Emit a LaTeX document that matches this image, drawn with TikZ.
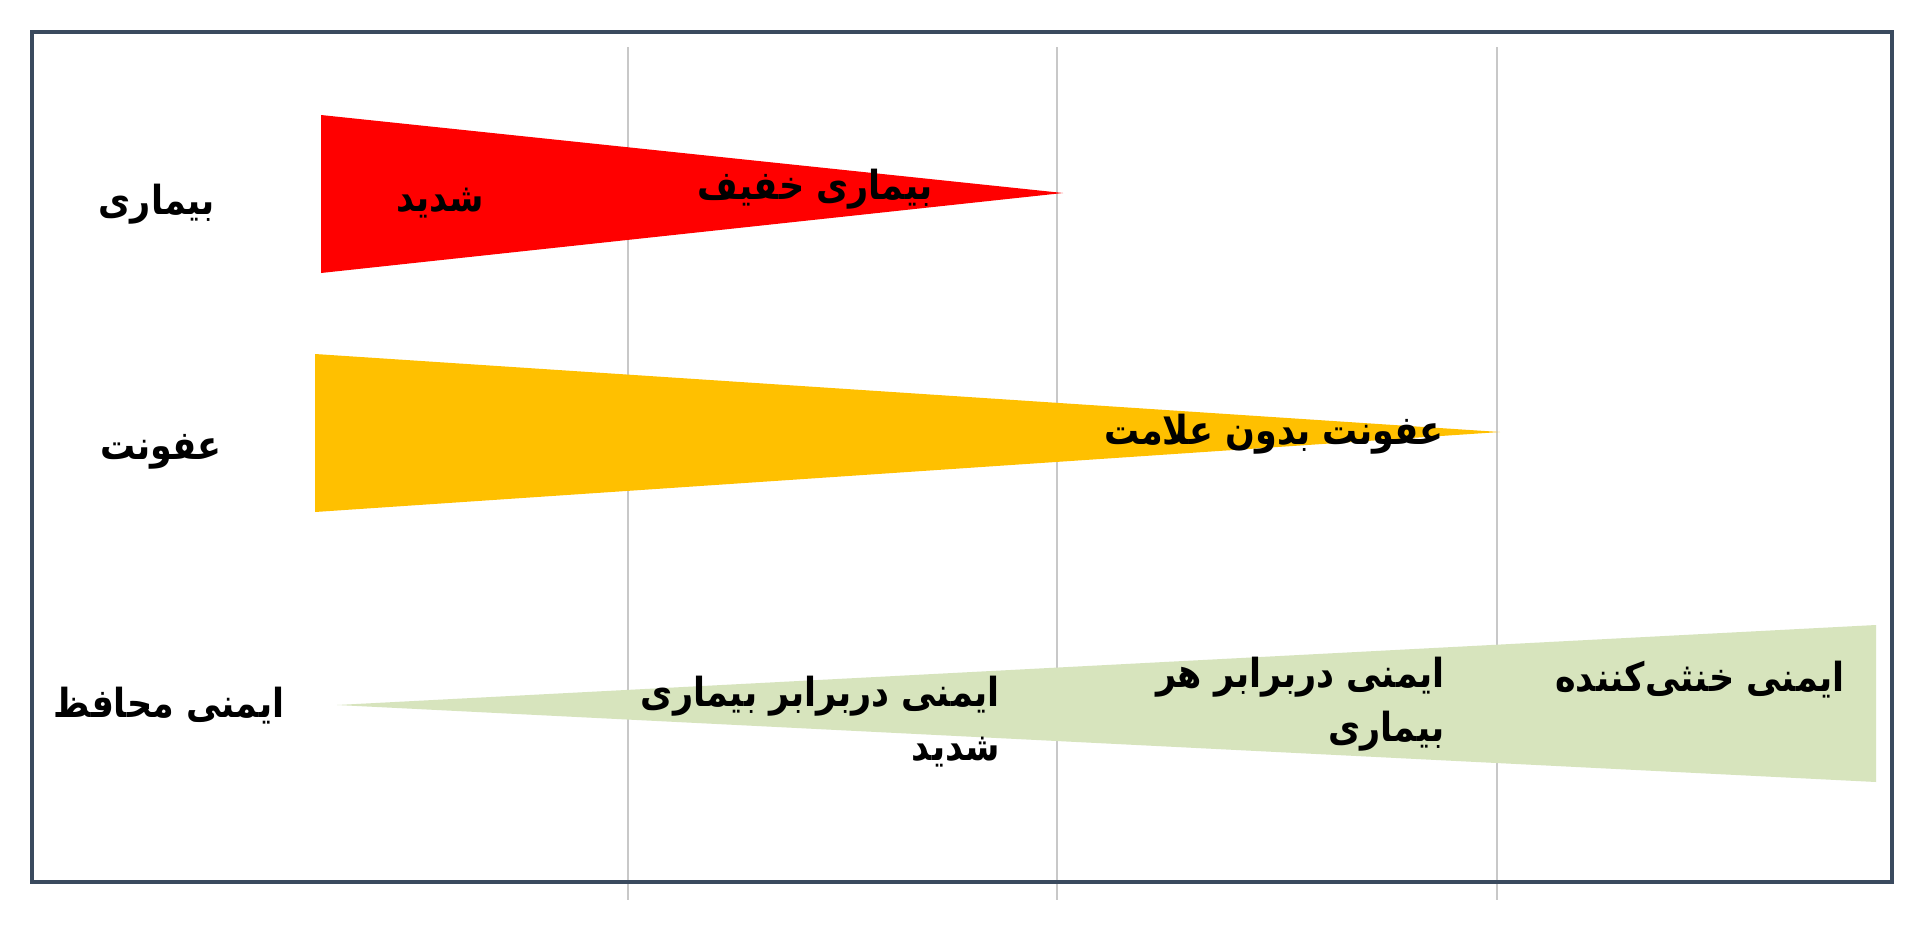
\documentclass[tikz,border=0pt]{standalone}
\usepackage{fontspec}
\newfontfamily\fa[Script=Arabic, FakeStretch=0.875]{DejaVu Sans}
\TeXXeTstate=1
\definecolor{framec}{RGB}{58,74,94}
\definecolor{gridc}{RGB}{200,200,200}
\definecolor{redc}{RGB}{255,0,0}
\definecolor{orangec}{RGB}{255,192,0}
\definecolor{greenc}{RGB}{215,228,189}
\begin{document}
\begin{tikzpicture}[x=1pt,y=-1pt,
  lbl/.style={font=\fa\bfseries\fontsize{40}{54}\selectfont, inner sep=0pt, text=black},
  gridline/.style={draw=gridc, line width=1.5pt},
  bandred/.style={fill=redc},
  bandorange/.style={fill=orangec},
  bandgreen/.style={fill=greenc}]
\useasboundingbox (0,0) rectangle (1920,924);
\fill[white] (0,0) rectangle (1920,924);
% grid lines
\foreach \x in {628,1057,1497} \draw[gridline] (\x,47) -- (\x,900);
% frame
\draw[framec, line width=4.5pt] (32,32) rectangle (1892,882);
% bands
\path[bandred] (321,115) coordinate (r1) -- (1063,193) coordinate (rt) -- (321,273) coordinate (r2) -- cycle;
\path[bandorange] (315,354) coordinate (o1) -- (1500,432) coordinate (ot) -- (315,512) coordinate (o2) -- cycle;
\path[bandgreen] (337,705) coordinate (gt) -- (1876,625) coordinate (g1) -- (1876,782) coordinate (g2) -- cycle;
% row labels
\node[lbl] (lab1) at (157,204) {\beginR بیماری\endR};
\node[lbl] (lab2) at (161,452) {\beginR عفونت\endR};
\node[lbl] (lab3) at (169,706) {\beginR ایمنی محافظ\endR};
% red band texts
\node[lbl] (t1) at (440,203) {\beginR شدید\endR};
\node[lbl, anchor=east] (t2) at (933,189) {\beginR بیماری خفیف\endR};
% orange band text
\node[lbl, anchor=east] (t3) at (1444,434) {\beginR عفونت بدون علامت\endR};
% green band texts
\node[lbl, align=right, anchor=east] (t4) at (1000,722) {\beginR ایمنی دربرابر بیماری\endR\\\beginR شدید\endR};
\node[lbl, align=right, anchor=east] (t5) at (1445,704) {\beginR ایمنی دربرابر هر\endR\\\beginR بیماری\endR};
\node[lbl, anchor=east] (t6) at (1845,680) {\beginR ایمنی خنثی‌کننده\endR};
\end{tikzpicture}
\end{document}
